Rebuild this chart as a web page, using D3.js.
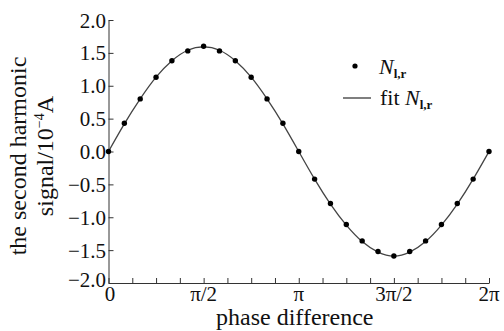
<!DOCTYPE html>
<html><head><meta charset="utf-8">
<script src="https://cdn.jsdelivr.net/npm/d3@7"></script>
<style>body{margin:0;background:#fff}svg{display:block}text{font-family:"Liberation Serif","Times New Roman",serif;fill:#111}</style>
</head><body><svg id="c" width="504" height="331"></svg>
<script>
const phaseSteps = d3.range(25); // k * pi/12
const measured = [0.00,0.43,0.80,1.13,1.38,1.53,1.60,1.53,1.38,1.13,0.80,0.43,0.00,-0.42,-0.79,-1.11,-1.36,-1.52,-1.59,-1.52,-1.36,-1.11,-0.79,-0.42,0.00];
const fitted   = [0.00,0.42,0.80,1.13,1.38,1.54,1.59,1.54,1.38,1.13,0.80,0.42,0.00,-0.42,-0.80,-1.12,-1.37,-1.53,-1.59,-1.53,-1.37,-1.12,-0.80,-0.42,0.00];
const xTickVals = [0, Math.PI/2, Math.PI, 3*Math.PI/2, 2*Math.PI];
const xTickLabels = ["0","π/2","π","3π/2","2π"];
const yTickVals = [-2,-1.5,-1,-0.5,0,0.5,1,1.5,2];
const yTickLabels = ["−2.0","−1.5","−1.0","−0.5","0.0","0.5","1.0","1.5","2.0"];

const svg = d3.select("#c");
const x = d3.scaleLinear().domain([0, 2*Math.PI]).range([108.5, 489]);
const y = d3.scaleLinear().domain([-2, 2]).range([283, 20]);
const axisColor = "#333";

// x axis
const xMinor = d3.range(17).map(i => i*Math.PI/8);
const xa = svg.append("g").attr("transform","translate(0,283)")
  .call(d3.axisBottom(x).tickValues(xMinor).tickSizeInner(-5).tickSizeOuter(0).tickFormat(""));
xa.select(".domain").attr("stroke",axisColor);
xa.selectAll(".tick line").attr("stroke",axisColor);
xTickVals.forEach((v,i)=>{
  svg.append("text").attr("x",x(v)+(i===0?1.5:0)).attr("y",301).attr("text-anchor","middle")
    .attr("font-size",21).text(xTickLabels[i]);
});
// y axis
const ya = svg.append("g").attr("transform","translate(108.5,0)")
  .call(d3.axisLeft(y).tickValues(yTickVals).tickSizeInner(-5).tickSizeOuter(0).tickFormat(""));
ya.select(".domain").attr("stroke",axisColor);
ya.selectAll(".tick line").attr("stroke",axisColor);
yTickVals.forEach((v,i)=>{
  svg.append("text").attr("x",106).attr("y",y(v)+7.5-(i===0?4:0)).attr("text-anchor","end")
    .attr("font-size",21).text(yTickLabels[i]);
});

// titles
svg.append("text").attr("x",x(Math.PI)-4).attr("y",325).attr("text-anchor","middle")
  .attr("font-size",24).text("phase difference");
svg.append("text").attr("transform","translate(26,156) rotate(-90)").attr("text-anchor","middle")
  .attr("font-size",24).text("the second harmonic");
const t2 = svg.append("text").attr("transform","translate(53,156) rotate(-90)").attr("text-anchor","middle")
  .attr("font-size",24);
t2.append("tspan").text("signal/10");
t2.append("tspan").attr("font-size",14).attr("dy",-9).text("−4");
t2.append("tspan").attr("dy",9).text("A");

// fit line
const line = d3.line().x((d,i)=>x(phaseSteps[i]*Math.PI/12)).y(d=>y(d)).curve(d3.curveNatural);
svg.append("path").datum(fitted).attr("d",line).attr("fill","none").attr("stroke","#444").attr("stroke-width",1.3);
// points
svg.selectAll("circle.pt").data(measured).join("circle").attr("class","pt")
  .attr("cx",(d,i)=>x(phaseSteps[i]*Math.PI/12)).attr("cy",d=>y(d)).attr("r",2.7).attr("fill","#000");

// legend
svg.append("circle").attr("cx",355).attr("cy",66).attr("r",2.6).attr("fill","#000");
const l1 = svg.append("text").attr("x",379).attr("y",74).attr("font-size",22);
l1.append("tspan").attr("font-style","italic").text("N");
l1.append("tspan").attr("font-size",13).attr("font-weight","bold").attr("dy",4).text("l,r");
svg.append("line").attr("x1",343).attr("x2",371).attr("y1",98).attr("y2",98).attr("stroke","#555").attr("stroke-width",1.5);
const l2 = svg.append("text").attr("x",380).attr("y",105).attr("font-size",22);
l2.append("tspan").text("fit ");
l2.append("tspan").attr("font-style","italic").text("N");
l2.append("tspan").attr("font-size",13).attr("font-weight","bold").attr("dy",4).text("l,r");
</script></body></html>
